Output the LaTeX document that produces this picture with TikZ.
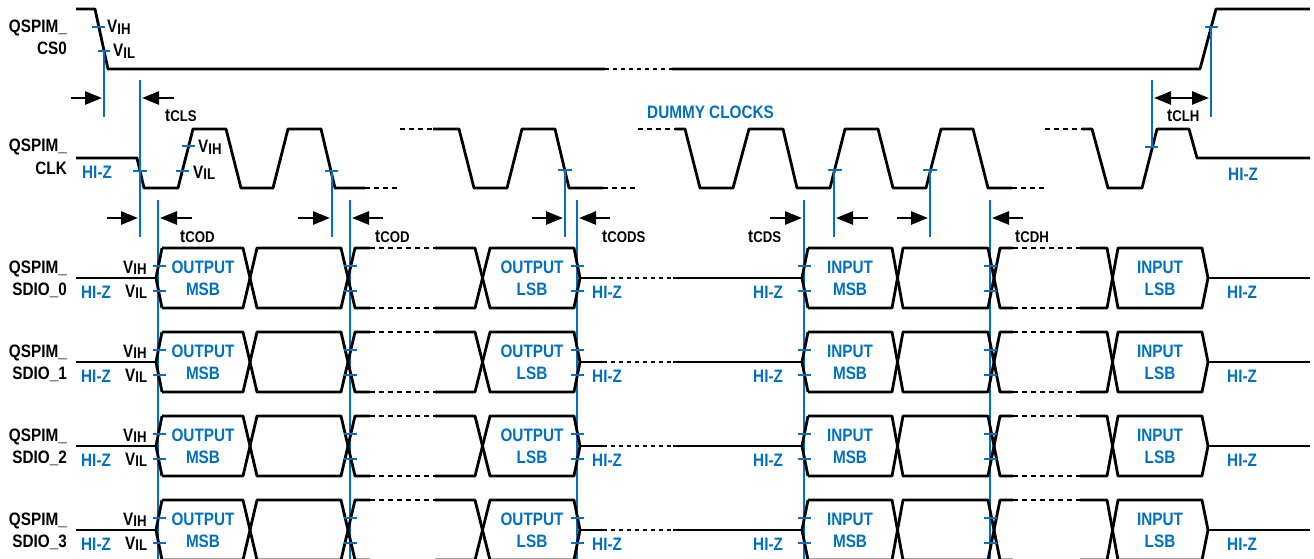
\documentclass[tikz,border=0pt]{standalone}
\usepackage{fontspec}
\newfontfamily\lblfam{Liberation Sans}[FakeStretch=0.85]
\usetikzlibrary{arrows.meta}
\definecolor{qblue}{RGB}{0,112,192}
\newcommand\lblfont{\lblfam\bfseries\fontsize{18}{18}\selectfont}
\newcommand\vsub[1]{V\raisebox{-1.7pt}{\fontsize{15.5}{15.5}\selectfont #1}}
\newcommand\tsub[1]{t{\fontsize{15.5}{15.5}\selectfont #1}}
\tikzset{
  sig/.style={line width=2.8pt, line join=round},
  dsig/.style={sig, dash pattern=on 5pt off 4pt},
  osig/.style={sig, dash pattern=on 4pt off 4pt},
  mk/.style={draw=qblue, line width=2.7pt},
  arr/.style={line width=2.7pt, -{Triangle[length=17pt,width=13pt]}},
  darr/.style={line width=2.7pt, {Triangle[length=17pt,width=13pt]}-{Triangle[length=17pt,width=13pt]}},
  lbl/.style={inner sep=0pt, font=\lblfont},
  blbl/.style={lbl, text=qblue},
}
\begin{document}
\begin{tikzpicture}[x=1pt,y=-1pt]
\useasboundingbox (0,0) rectangle (1314,559);
% ---------------- CS0 ----------------
\draw[sig] (76,9) -- (95,9) -- (108,69) -- (605,69);
\draw[osig] (605,69) -- (672,69);
\draw[sig] (672,69) -- (1200,69) -- (1216,9) -- (1310,9);
\node[lbl, anchor=base east] (csq) at (67,33) {QSPIM\_};
\node[lbl, anchor=base east] (csn) at (67,55) {CS0};
\node[lbl, anchor=base west] (csvih) at (107,33) {\vsub{IH}};
\node[lbl, anchor=base west] (csvil) at (113,57) {\vsub{IL}};
\draw[mk] (92,27) -- (105,27);
\draw[mk] (98,51) -- (110,51);
\draw[mk] (104,51) -- (104,117);
\draw[mk] (1205,27) -- (1218,27);
\draw[mk] (1211,27) -- (1211,117);
% ---------------- CLK ----------------
\draw[sig] (76,158) -- (137,158) -- (144,188) -- (178,188) -- (193,129) -- (226,129) -- (241,188) -- (273,188) -- (288,129) -- (321,129) -- (335,188) -- (365,188);
\draw[dsig] (365,188) -- (398,188);
\draw[dsig] (400,129) -- (433,129);
\draw[sig] (433,129) -- (459,129) -- (474,188) -- (507,188) -- (522,129) -- (555,129) -- (569,188) -- (603,188);
\draw[dsig] (603,188) -- (638,188);
\draw[dsig] (638,129) -- (675,129);
\draw[sig] (675,129) -- (685,129) -- (700,188) -- (733,188) -- (749,129) -- (783,129) -- (797,188) -- (830,188) -- (845,129) -- (878,129) -- (893,188) -- (926,188) -- (941,129) -- (973,129) -- (988,188) -- (1012,188);
\draw[dsig] (1012,188) -- (1045,188);
\draw[dsig] (1045,129) -- (1082,129);
\draw[sig] (1082,129) -- (1092,129) -- (1108,188) -- (1142,188) -- (1157,129) -- (1189,129) -- (1197,158) -- (1310,158);
\node[lbl, anchor=base east] (ckq) at (67,152) {QSPIM\_};
\node[lbl, anchor=base east] (ckn) at (67,175) {CLK};
\node[blbl, anchor=base west] (ckz) at (82,178) {HI-Z};
\node[blbl, anchor=base west] (ckz2) at (1228,180) {HI-Z};
\node[lbl, anchor=base west] (ckvih) at (198,153) {\vsub{IH}};
\node[lbl, anchor=base west] (ckvil) at (193,178) {\vsub{IL}};
\node[blbl, anchor=base west] (dummy) at (647,119) {DUMMY CLOCKS};
% ticks on CLK
\draw[mk] (133,171) -- (147,171);
\draw[mk] (182,146) -- (195,146);
\draw[mk] (176,171) -- (189,171);
\draw[mk] (325,171) -- (338,171);
\draw[mk] (558,170) -- (572,170);
\draw[mk] (828,170) -- (842,170);
\draw[mk] (923,170) -- (937,170);
\draw[mk] (1145,147) -- (1158,147);
% verticals from CLK
\draw[mk] (140,80) -- (140,237);
\draw[mk] (332,171) -- (332,237);
\draw[mk] (565,170) -- (565,237);
\draw[mk] (834,170) -- (834,237);
\draw[mk] (930,170) -- (930,237);
\draw[mk] (1152,80) -- (1152,147);
% long verticals
\foreach \x in {158,350,577,804,990}{
  \draw[mk] (\x,200) -- (\x,559);
}
% ---------------- timing arrows ----------------
\draw[arr] (71,98) -- (102,98);
\draw[arr] (174,98) -- (142,98);
\draw[darr] (1154,98) -- (1209,98);
\draw[arr] (107,218) -- (138,218);
\draw[arr] (192,218) -- (160,218);
\draw[arr] (298,218) -- (330,218);
\draw[arr] (383,218) -- (352,218);
\draw[arr] (532,218) -- (563,218);
\draw[arr] (610,218) -- (579,218);
\draw[arr] (770,218) -- (802,218);
\draw[arr] (868,218) -- (836,218);
\draw[arr] (897,218) -- (928,218);
\draw[arr] (1023,218) -- (992,218);
\node[lbl, anchor=base west] (tcls) at (165,122) {\tsub{CLS}};
\node[lbl, anchor=base west] (tclh) at (1167,122) {\tsub{CLH}};
\node[lbl, anchor=base west] (tcod1) at (180,242) {\tsub{COD}};
\node[lbl, anchor=base west] (tcod2) at (375,242) {\tsub{COD}};
\node[lbl, anchor=base west] (tcods) at (602,242) {\tsub{CODS}};
\node[lbl, anchor=base west] (tcds) at (748,242) {\tsub{CDS}};
\node[lbl, anchor=base west] (tcdh) at (1015,242) {\tsub{CDH}};
% ---------------- SDIO rows ----------------
\foreach \i in {0,1,2,3}{
  \pgfmathsetmacro\m{278+84*\i}
  \pgfmathsetmacro\rt{\m-30}
  \pgfmathsetmacro\rb{\m+30}
  \pgfmathsetmacro\rh{\m-12}
  \pgfmathsetmacro\rl{\m+13}
  % hi-z lead in
  \draw[sig] (76,\m) -- (156,\m);
  \draw[sig] (162,\rt) -- (156,\m) -- (162,\rb);
  % output section
  \draw[sig] (162,\rt) -- (243,\rt) -- (257,\rb) -- (341,\rb) -- (355,\rt) -- (370,\rt);
  \draw[sig] (162,\rb) -- (243,\rb) -- (257,\rt) -- (341,\rt) -- (355,\rb) -- (370,\rb);
  \draw[dsig] (370,\rt) -- (435,\rt);
  \draw[dsig] (370,\rb) -- (435,\rb);
  \draw[sig] (435,\rt) -- (475,\rt) -- (490,\rb) -- (574,\rb) -- (580,\m);
  \draw[sig] (435,\rb) -- (475,\rb) -- (490,\rt) -- (574,\rt) -- (580,\m);
  % hi-z gap
  \draw[sig] (580,\m) -- (603,\m);
  \draw[osig] (603,\m) -- (673,\m);
  \draw[sig] (673,\m) -- (802,\m);
  % input section
  \draw[sig] (808,\rt) -- (802,\m) -- (808,\rb);
  \draw[sig] (808,\rt) -- (892,\rt) -- (903,\rb) -- (988,\rb) -- (1000,\rt) -- (1013,\rt);
  \draw[sig] (808,\rb) -- (892,\rb) -- (903,\rt) -- (988,\rt) -- (1000,\rb) -- (1013,\rb);
  \draw[dsig] (1013,\rt) -- (1080,\rt);
  \draw[dsig] (1013,\rb) -- (1080,\rb);
  \draw[sig] (1080,\rt) -- (1107,\rt) -- (1118,\rb) -- (1202,\rb) -- (1208,\m);
  \draw[sig] (1080,\rb) -- (1107,\rb) -- (1118,\rt) -- (1202,\rt) -- (1208,\m);
  \draw[sig] (1208,\m) -- (1310,\m);
  % ticks
  \foreach \x in {159,350,577,804,990}{
    \draw[mk] (\x-6.5,\rh) -- (\x+6.5,\rh);
    \draw[mk] (\x-6.5,\rl) -- (\x+6.5,\rl);
  }
  % labels
  \node[lbl, anchor=base east] (q\i) at (67,\m-5) {QSPIM\_};
  \node[lbl, anchor=base east] (s\i) at (67,\m+17) {SDIO\_\i};
  \node[lbl, anchor=base west] (vih\i) at (123,\m-5) {\vsub{IH}};
  \node[lbl, anchor=base west] (vil\i) at (125,\m+19) {\vsub{IL}};
  \node[blbl, anchor=base west] (za\i) at (81,\m+20) {HI-Z};
  \node[blbl, anchor=base] (om\i) at (203,\m-5) {OUTPUT};
  \node[blbl, anchor=base] (omb\i) at (203,\m+17) {MSB};
  \node[blbl, anchor=base] (ol\i) at (532,\m-5) {OUTPUT};
  \node[blbl, anchor=base] (olb\i) at (532,\m+17) {LSB};
  \node[blbl, anchor=base west] (zb\i) at (592,\m+20) {HI-Z};
  \node[blbl, anchor=base west] (zc\i) at (753,\m+20) {HI-Z};
  \node[blbl, anchor=base] (im\i) at (850,\m-5) {INPUT};
  \node[blbl, anchor=base] (imb\i) at (850,\m+17) {MSB};
  \node[blbl, anchor=base] (il\i) at (1160,\m-5) {INPUT};
  \node[blbl, anchor=base] (ilb\i) at (1160,\m+17) {LSB};
  \node[blbl, anchor=base west] (zd\i) at (1227,\m+20) {HI-Z};
}
\end{tikzpicture}
\end{document}
